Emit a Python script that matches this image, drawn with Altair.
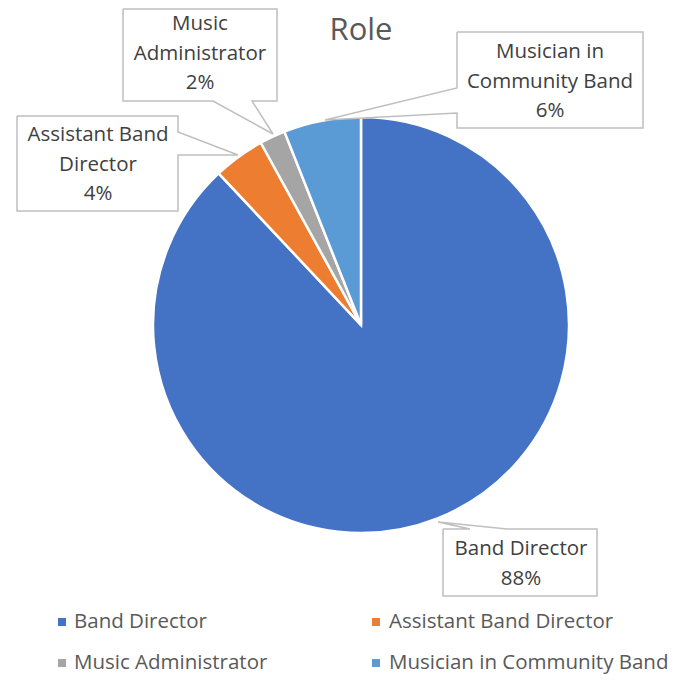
import altair as alt
import pandas as pd

# ---- data ----
roles = ["Band Director", "Assistant Band Director", "Music Administrator", "Musician in Community Band"]
shares = [88, 4, 2, 6]
colors = ["#4472C4", "#ED7D31", "#A5A5A5", "#5B9BD5"]
label_text = [
    ["Band Director", "88%"],
    ["Assistant Band", "Director", "4%"],
    ["Music", "Administrator", "2%"],
    ["Musician in", "Community Band", "6%"],
]

# ---- layout (page pixels) ----
OFF = 8
CX, CY, R = 361, 325, 208
FONT = "Open Sans"
FS = 20.5
label_center_x = [521, 98, 200, 550]
label_first_y = [549, 135, 24, 52]
LINE_H = 29.5
callouts = [
    [(443, 529), (470, 529), (438, 522), (507, 529), (597, 529), (597, 596), (443, 596), (443, 529)],
    [(17, 116), (178, 116), (178, 132), (238, 155), (178, 155), (178, 211), (17, 211), (17, 116)],
    [(123, 9), (277, 9), (277, 101), (252, 101), (273, 134), (213, 101), (123, 101), (123, 9)],
    [(457, 32), (643, 32), (643, 128), (457, 128), (457, 113), (325, 120), (457, 88), (457, 32)],
]
legend_sq = [(62, 622), (376, 622), (62, 663), (376, 663)]
legend_tx = [74, 389, 74, 389]

pie_df = pd.DataFrame({"role": roles, "share": shares, "idx": range(len(roles))})

rows = []
for i, lines in enumerate(label_text):
    for j, t in enumerate(lines):
        rows.append({"t": t, "x": label_center_x[i] - OFF, "y": label_first_y[i] + j * LINE_H - OFF})
lab_df = pd.DataFrame(rows)

prow = []
for i, pts in enumerate(callouts):
    for k, (px, py) in enumerate(pts):
        prow.append({"c": i, "k": k, "x": px - OFF, "y": py - OFF})
path_df = pd.DataFrame(prow)

leg_df = pd.DataFrame({
    "role": roles,
    "sx": [p[0] - OFF for p in legend_sq],
    "sy": [p[1] - OFF for p in legend_sq],
    "tx": [t - OFF for t in legend_tx],
})

cscale = alt.Scale(domain=roles, range=colors)

pie = alt.Chart(pie_df).mark_arc(radius=R, stroke="white", strokeWidth=2.5).encode(
    theta=alt.Theta("share:Q", stack=True),
    order=alt.Order("idx:Q"),
    color=alt.Color("role:N", scale=cscale, legend=None),
    x=alt.value(CX - OFF),
    y=alt.value(CY - OFF),
)

boxes = alt.Chart(path_df).mark_line(color="#BFBFBF", strokeWidth=1.5).encode(
    x=alt.X("x:Q", scale=None, axis=None),
    y=alt.Y("y:Q", scale=None, axis=None),
    detail="c:N",
    order="k:Q",
)

labels = alt.Chart(lab_df).mark_text(font=FONT, fontSize=FS, color="#404040", baseline="middle", align="center").encode(
    x=alt.X("x:Q", scale=None, axis=None),
    y=alt.Y("y:Q", scale=None, axis=None),
    text="t:N",
)

title = alt.Chart(pd.DataFrame({"t": ["Role"]})).mark_text(
    font=FONT, fontSize=31, color="#595959", baseline="middle", align="center"
).encode(x=alt.value(CX - OFF), y=alt.value(31 - OFF), text="t:N")

leg_sq = alt.Chart(leg_df).mark_square(size=64, opacity=1).encode(
    x=alt.X("sx:Q", scale=None, axis=None),
    y=alt.Y("sy:Q", scale=None, axis=None),
    color=alt.Color("role:N", scale=cscale, legend=None),
)
leg_tx = alt.Chart(leg_df).mark_text(font=FONT, fontSize=FS, color="#595959", baseline="middle", align="left").encode(
    x=alt.X("tx:Q", scale=None, axis=None),
    y=alt.Y("sy:Q", scale=None, axis=None),
    text="role:N",
)

chart = alt.layer(pie, boxes, labels, title, leg_sq, leg_tx).properties(
    width=675, height=667, autosize="none", padding=0, background="white"
).configure_view(stroke=None)

chart.save("out.html", embed_options={"renderer": "svg", "actions": False})
